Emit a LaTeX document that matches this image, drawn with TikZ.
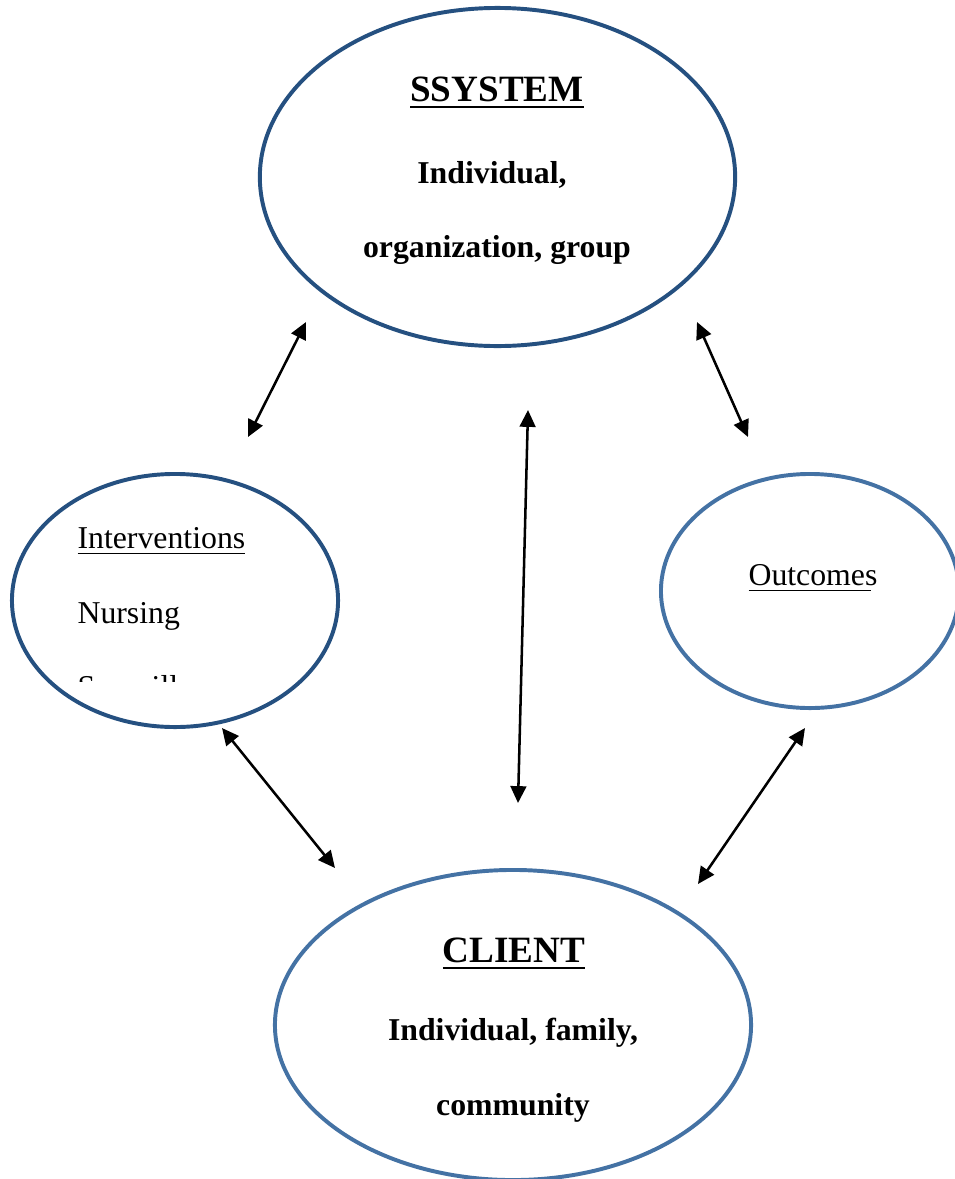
\documentclass[tikz,border=0pt]{standalone}
\usepackage{fontspec}
\setmainfont{Liberation Serif}
\usepackage{tikz}
\usetikzlibrary{positioning, shapes.geometric, arrows.meta}

\definecolor{darkblue}{RGB}{37,80,128}
\definecolor{lightblue}{RGB}{68,114,164}

% underline with a chosen depth, thickness and shortening
\newcommand{\thickul}[4]{\setbox0\hbox{#4}\rlap{\rule[-#1]{\dimexpr\wd0-#3\relax}{#2}}\box0}

\begin{document}
\begin{tikzpicture}[x=0.0125cm, y=-0.0125cm,
  main node/.style={ellipse,draw,line width=1.4pt,inner sep=0pt},
  title text/.style={font=\fontsize{13.2}{15}\selectfont\bfseries,anchor=base},
  bold text/.style={font=\fontsize{11.3}{13}\selectfont\bfseries,anchor=base},
  plain text/.style={font=\fontsize{11.3}{13}\selectfont,anchor=base west,inner sep=0pt},
  link/.style={line width=0.9pt,{Triangle[length=6pt,width=5.6pt]}-{Triangle[length=6pt,width=5.6pt]}}]

\useasboundingbox (0,0) rectangle (955,1179);

\node[main node, draw=darkblue, minimum width=5.94cm, minimum height=4.225cm] (S) at (497.5,177) {};
\node[main node, draw=darkblue, minimum width=4.075cm, minimum height=3.1625cm] (I) at (175,600.5) {};
\node[main node, draw=lightblue, minimum width=3.725cm, minimum height=2.925cm] (O) at (810,591) {};
\node[main node, draw=lightblue, minimum width=5.95cm, minimum height=3.875cm] (C) at (513,1025) {};

\node[title text] (S1) at (497,101) {\thickul{2.6pt}{0.85pt}{0pt}{SSYSTEM}};
\node[bold text] (S2) at (492,183) {Individual,};
\node[bold text] (S3) at (497,257) {organization, group};

\node[plain text] (I1) at (77,548) {\thickul{2.2pt}{0.55pt}{0pt}{Interventions}};
\node[plain text] (I2) at (77,623) {Nursing};
\begin{scope}
  \clip (60,640) rectangle (330,681);
  \node[plain text] (I3) at (77,697.5) {Surveillance};
\end{scope}

\node[plain text] (O1) at (748,585) {\thickul{2.2pt}{0.55pt}{2.4pt}{Outcomes}};

\node[title text] (C1) at (514,962) {\thickul{2.6pt}{0.85pt}{0pt}{CLIENT}};
\node[bold text] (C2) at (513,1040) {Individual, family,};
\node[bold text] (C3) at (513,1115) {community};

\coordinate (a1) at (306,322);
\coordinate (a2) at (248,437);
\coordinate (b1) at (697,322);
\coordinate (b2) at (748,437);
\coordinate (c1) at (528,410);
\coordinate (c2) at (518,803);
\coordinate (d1) at (222,728);
\coordinate (d2) at (335,868);
\coordinate (e1) at (805,728);
\coordinate (e2) at (698,884);

\path[link]
(a1) edge (a2)
(b1) edge (b2)
(c1) edge (c2)
(d1) edge (d2)
(e1) edge (e2)
;

\end{tikzpicture}
\end{document}
